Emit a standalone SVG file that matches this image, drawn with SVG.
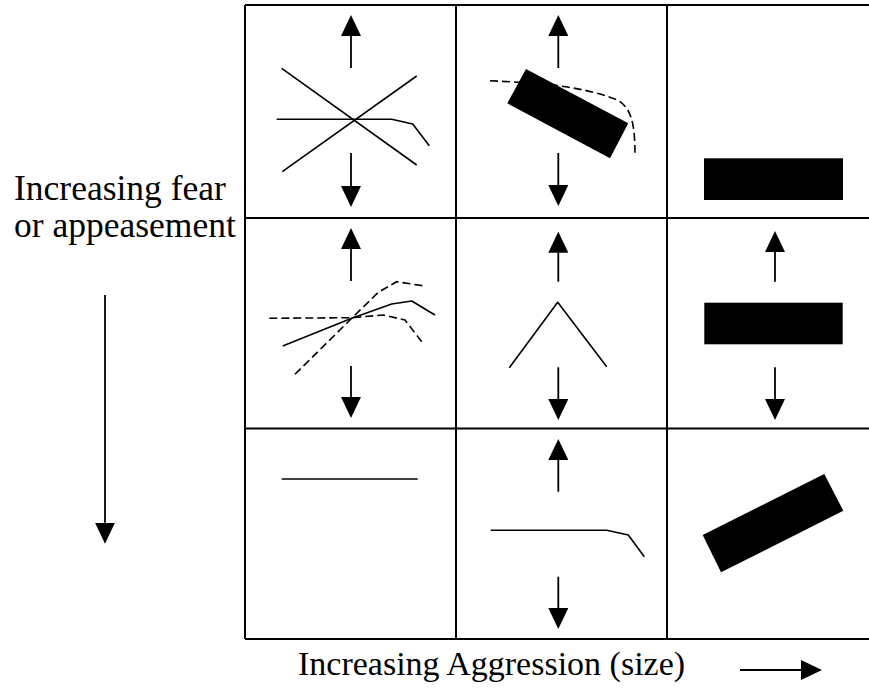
<svg xmlns="http://www.w3.org/2000/svg" width="869" height="688" viewBox="0 0 869 688">
  <style>
    .grid { stroke: #000; stroke-width: 2; fill: none; }
    .ln { stroke: #000; stroke-width: 1.6; fill: none; stroke-linejoin: round; }
    .dash { stroke: #000; stroke-width: 1.6; fill: none; stroke-dasharray: 8 4; }
    .arrow { stroke: #000; stroke-width: 1.8; fill: none; marker-end: url(#head); }
    .blk { fill: #000; }
    .lbl { font-family: "Liberation Serif", "Times New Roman", serif; fill: #000; }
  </style>
  <defs>
    <marker id="head" viewBox="0 0 21 20" refX="0" refY="10" markerWidth="21" markerHeight="20" markerUnits="userSpaceOnUse" orient="auto">
      <path d="M0,0 L21,10 L0,20 Z" fill="#000"/>
    </marker>
  </defs>
  <rect width="869" height="688" fill="#fff"/>

  <!-- 3x3 grid -->
  <g id="grid">
    <path class="grid" d="M245,5 H880 M245,218 H880 M245,428.5 H880 M245,639 H880"/>
    <path class="grid" d="M245,5 V639 M456,5 V639 M667,5 V639"/>
  </g>

  <!-- row 1 -->
  <g id="cell-r1c1">
    <path class="ln" d="M281.7,68.3 L416.7,165 M282.3,171.7 L416.7,76"/>
    <polyline class="ln" points="276.7,119.3 391.7,119.3 412.7,124 429.3,145.7"/>
  </g>
  <g id="cell-r1c2">
    <path class="dash" d="M490,80.7 L540,83.5 C575,87 600,93 615,99 C632,106 635,125 635,156"/>
    <polygon class="blk" points="526,69 628.3,123.3 610,158.3 507.3,103.3"/>
  </g>
  <g id="cell-r1c3">
    <rect class="blk" x="704" y="158.3" width="139" height="41.7"/>
  </g>

  <!-- row 2 -->
  <g id="cell-r2c1">
    <polyline class="ln" points="282.7,346 351.7,318.3 391.7,304 411.7,301 435,315"/>
    <polyline class="dash" points="269.3,318.3 351,317.7 383.3,315 405,320 421.7,341.7"/>
    <polyline class="dash" points="295,374.3 351.7,318.3 378.3,292.3 396.7,281.7 422.7,285.7"/>
  </g>
  <g id="cell-r2c2">
    <polyline class="ln" points="509.3,367.7 557.7,302.3 606.7,366.7"/>
  </g>
  <g id="cell-r2c3">
    <rect class="blk" x="704.3" y="302.7" width="138.4" height="41.6"/>
  </g>

  <!-- row 3 -->
  <g id="cell-r3c1">
    <path class="ln" d="M281.7,479 H417.7"/>
  </g>
  <g id="cell-r3c2">
    <polyline class="ln" points="490.7,530.3 606.7,530.3 628.3,535 644.3,556.7"/>
  </g>
  <g id="cell-r3c3">
    <polygon class="blk" points="702.7,535 824.3,474 843.3,510.7 721,572.3"/>
  </g>

  <!-- vertical arrows inside the cells -->
  <g id="connectors">
    <path class="arrow" d="M351,68 V36"/>
    <path class="arrow" d="M351,153 V186"/>
    <path class="arrow" d="M558.3,68 V36"/>
    <path class="arrow" d="M558.3,153 V185"/>
    <path class="arrow" d="M351,281 V249"/>
    <path class="arrow" d="M351,366 V397"/>
    <path class="arrow" d="M558.3,281.7 V252.7"/>
    <path class="arrow" d="M558.3,367.3 V399"/>
    <path class="arrow" d="M775,281.7 V252"/>
    <path class="arrow" d="M775,367.3 V399"/>
    <path class="arrow" d="M558.3,491.7 V460"/>
    <path class="arrow" d="M558.3,576.7 V608"/>
    <!-- axis arrows -->
    <path class="arrow" d="M105,295 V522.7"/>
    <path class="arrow" d="M740,670 H801"/>
  </g>

  <!-- axis labels -->
  <g id="labels">
    <text class="lbl" font-size="35.5" x="14" y="200">Increasing fear</text>
    <text class="lbl" font-size="35.5" x="14" y="237">or appeasement</text>
    <text class="lbl" font-size="34" x="298" y="675">Increasing Aggression (size)</text>
  </g>
</svg>
